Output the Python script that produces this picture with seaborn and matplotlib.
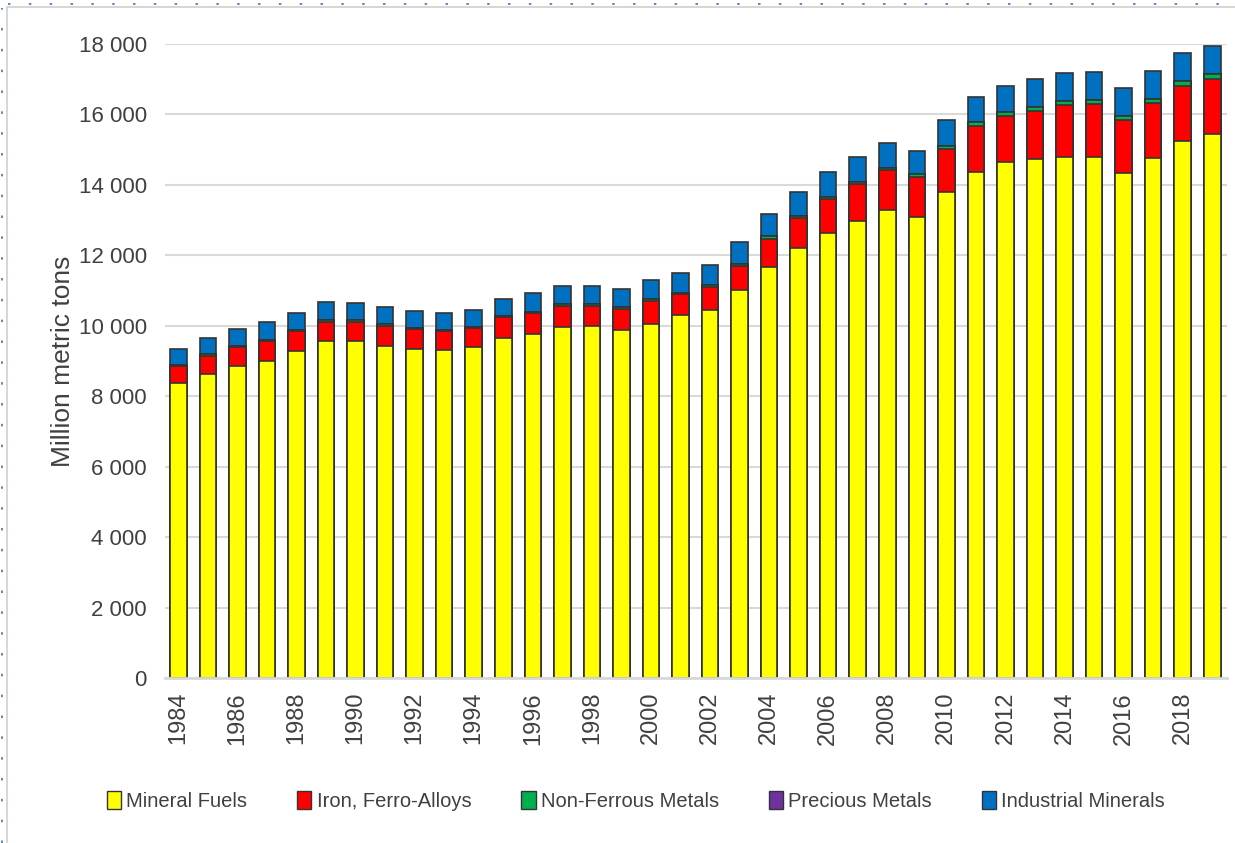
import numpy as np
import pandas as pd
import seaborn as sns
import matplotlib.pyplot as plt
from matplotlib.patches import Patch, Rectangle
from matplotlib.lines import Line2D
from matplotlib.ticker import FuncFormatter

# million metric tons
years = list(range(1984, 2020))
mineral_fuels = [8380, 8630, 8860, 9010, 9280, 9570, 9570, 9430, 9330, 9310,
                 9390, 9650, 9780, 9960, 9990, 9880, 10050, 10310, 10450, 11020,
                 11680, 12200, 12630, 12980, 13290, 13100, 13800, 14370, 14660, 14730,
                 14800, 14800, 14330, 14760, 15250, 15440]
iron_ferro = [480, 520, 530, 560, 560, 550, 550, 570, 580, 540,
              540, 590, 570, 600, 580, 600, 660, 580, 660, 680,
              790, 850, 960, 1040, 1130, 1120, 1210, 1300, 1300, 1380,
              1460, 1500, 1510, 1560, 1570, 1570]
non_ferrous = [40, 40, 40, 40, 40, 40, 40, 40, 40, 40,
               40, 40, 50, 50, 50, 50, 50, 50, 50, 50,
               65, 55, 60, 70, 70, 100, 100, 120, 120, 115,
               125, 115, 115, 120, 130, 130]
precious = [0.02, 0.02, 0.02, 0.02, 0.02, 0.02, 0.02, 0.02, 0.02, 0.02,
            0.02, 0.02, 0.02, 0.02, 0.02, 0.02, 0.02, 0.02, 0.02, 0.02,
            0.03, 0.03, 0.03, 0.03, 0.03, 0.03, 0.03, 0.03, 0.03, 0.03,
            0.03, 0.03, 0.03, 0.03, 0.03, 0.03]
industrial = [440, 470, 480, 500, 490, 520, 500, 480, 470, 460,
              480, 480, 520, 530, 520, 520, 540, 550, 560, 620,
              635, 685, 710, 710, 710, 640, 730, 710, 740, 785,
              785, 785, 805, 800, 790, 800]

names = ['Mineral Fuels', 'Iron, Ferro-Alloys', 'Non-Ferrous Metals',
         'Precious Metals', 'Industrial Minerals']
colors = ['#FFFF00', '#FF0000', '#00B050', '#7030A0', '#0070C0']

df = pd.DataFrame({'year': [str(y) for y in years],
                   names[0]: mineral_fuels, names[1]: iron_ferro,
                   names[2]: non_ferrous, names[3]: precious,
                   names[4]: industrial})
cum = df[names].cumsum(axis=1)

sns.set_theme(style='white')
plt.rcParams['font.family'] = ['Liberation Sans', 'DejaVu Sans']

fig = plt.figure(figsize=(12.35, 8.43), dpi=100)
ax = fig.add_axes([165/1235, 1-678/843, (1227-165)/1235, (678-44)/843])

# draw from the top layer down so each shorter bar covers the one below
for name, col in zip(names[::-1], colors[::-1]):
    sns.barplot(x=df['year'], y=cum[name], order=df['year'], color=col,
                saturation=1, width=0.56, edgecolor='#333333', linewidth=1.2,
                errorbar=None, ax=ax)

ax.set_ylim(0, 18000)
ax.set_xlim(-0.45, len(years) - 0.5)
ax.set_yticks(range(0, 18001, 2000))
ax.yaxis.set_major_formatter(FuncFormatter(lambda v, p: f'{int(v):,}'.replace(',', ' ')))
ax.set_xticks(range(0, len(years), 2))
ax.set_xticklabels([str(y) for y in years[::2]], rotation=90)
ax.tick_params(axis='y', length=0, pad=13, labelsize=16, labelcolor='#404040')
ax.tick_params(axis='x', length=0, pad=10, labelsize=17, labelcolor='#404040')
ax.set_xlabel('')
ax.set_ylabel('Million metric tons', fontsize=19, color='#404040', labelpad=3)

ax.yaxis.grid(True, color='#d9d9d9', linewidth=1.5)
ax.set_axisbelow(True)
for s in ['top', 'right', 'left']:
    ax.spines[s].set_visible(False)
ax.spines['bottom'].set_color('#d9d9d9')
ax.spines['bottom'].set_linewidth(2)

handles = [Patch(facecolor=c, edgecolor='#333333', linewidth=1) for c in colors]
fig.legend(handles, names, loc='center', bbox_to_anchor=(636/1235, 1-801/843),
           ncol=5, frameon=False, fontsize=14.5, handlelength=0.7, handleheight=1.0,
           handletextpad=0.25, columnspacing=2.5, labelcolor='#404040')

# screenshot frame
fig.add_artist(Rectangle((7/1235, -0.01), 1.0, 1-7/843 + 0.01, transform=fig.transFigure,
                         fill=False, edgecolor='#d0d0d0', linewidth=1.2))
fig.add_artist(Line2D([2/1235, 2/1235], [0, 1-8/843], transform=fig.transFigure,
                      color='#4472C4', linewidth=1.2, linestyle=(0, (1.5, 11))))
fig.add_artist(Line2D([8/1235, 1], [1-4/843, 1-4/843], transform=fig.transFigure,
                      color='#4472C4', linewidth=1.2, linestyle=(0, (1.5, 11))))

fig.savefig('out.png', dpi=100)
